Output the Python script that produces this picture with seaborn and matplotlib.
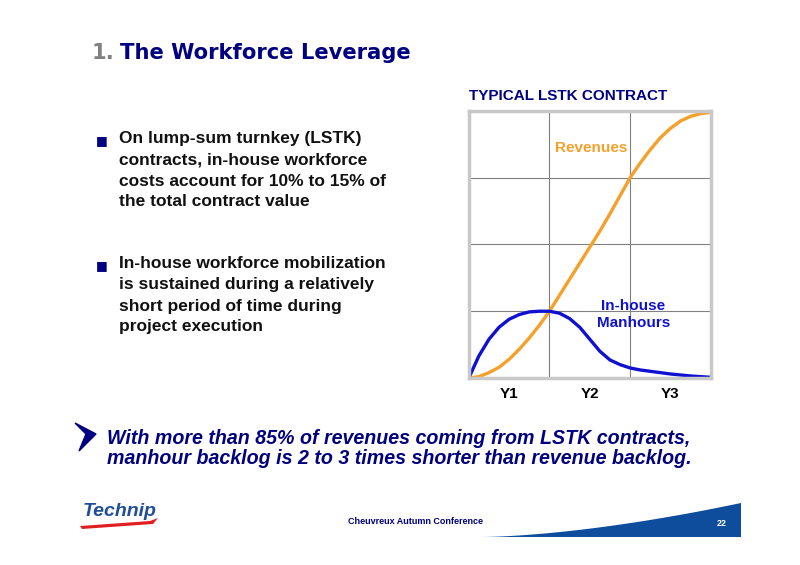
import matplotlib
matplotlib.use("Agg")
import matplotlib.pyplot as plt
from matplotlib.patches import Polygon
import numpy as np
import pandas as pd
import seaborn as sns

# chart values (x in years, y in grid rows)
years = [0, 0.125, 0.25, 0.375, 0.5, 0.625, 0.75, 0.875, 1.0, 1.125, 1.25, 1.375, 1.5,
         1.625, 1.75, 1.875, 2.0, 2.125, 2.25, 2.375, 2.5, 2.625, 2.75, 2.875, 3.0]
revenues = [0, 0.02, 0.08, 0.16, 0.28, 0.43, 0.6, 0.79, 1.0, 1.24, 1.48, 1.72, 1.96,
            2.2, 2.46, 2.73, 3.0, 3.22, 3.42, 3.6, 3.74, 3.85, 3.92, 3.96, 3.98]
manhours = [0, 0.33, 0.58, 0.76, 0.88, 0.95, 0.99, 1.0, 1.0, 0.97, 0.89, 0.76, 0.58,
            0.4, 0.27, 0.2, 0.15, 0.12, 0.1, 0.08, 0.06, 0.045, 0.03, 0.02, 0.01]
year_labels = ["Y1", "Y2", "Y3"]
year_label_pos = [0.5, 1.5, 2.5]

NAVY = "#000080"
ORANGE = "#F5A02A"
BLUE = "#1010D0"

df = pd.DataFrame({
    "year": years * 2,
    "value": revenues + manhours,
    "series": ["Revenues"] * len(years) + ["In-house Manhours"] * len(years),
})

sns.set_style("white")
plt.rcParams["font.family"] = ["Liberation Sans", "DejaVu Sans"]

fig = plt.figure(figsize=(8, 5.65), dpi=100)
ax = fig.add_axes([0.586, 0.331, 0.3025, 0.4726])

sns.lineplot(data=df, x="year", y="value", hue="series",
             palette={"Revenues": ORANGE, "In-house Manhours": BLUE},
             linewidth=2.4, legend=False, ax=ax)

ax.set_xlim(0, 3)
ax.set_ylim(0, 4)
ax.set_xticks([1, 2])
ax.set_yticks([1, 2, 3])
ax.set_xticklabels([])
ax.set_yticklabels([])
ax.tick_params(length=0)
ax.grid(True, color="#808080", linewidth=0.8)
ax.set_axisbelow(True)
ax.set_xlabel("")
ax.set_ylabel("")
for s in ax.spines.values():
    s.set_color("#C8C8C8")
    s.set_linewidth(2.5)

for lab, pos in zip(year_labels, year_label_pos):
    ax.text(pos, -0.24, lab, ha="center", va="center", fontsize=11,
            fontweight="bold", color="black")

ax.text(1.52, 3.45, "Revenues", ha="center", va="center", fontsize=11,
        fontweight="bold", color=ORANGE)
ax.text(2.04, 0.95, "In-house\nManhours", ha="center", va="center", fontsize=11,
        fontweight="bold", color=BLUE, linespacing=1.2)

ax.text(0.0, 4.22, "TYPICAL LSTK CONTRACT", ha="left", va="center", fontsize=11,
        fontweight="bold", color=NAVY)

# slide title
fig.text(92 / 800, 1 - 53 / 565, "1.", fontsize=15.2, fontweight="bold",
         color="#808080", va="center", ha="left", family="DejaVu Sans")
fig.text(120 / 800, 1 - 53 / 565, "The Workforce Leverage", fontsize=15.2,
         fontweight="bold", color=NAVY, va="center", ha="left", family="DejaVu Sans")

# bullets
bullet1 = ["On lump-sum turnkey (LSTK)", "contracts, in-house workforce",
           "costs account for 10% to 15% of", "the total contract value"]
bullet2 = ["In-house workforce mobilization", "is sustained during a relatively",
           "short period of time during", "project execution"]
for lines, y0 in [(bullet1, 139), (bullet2, 264)]:
    fig.text(102 / 800, 1 - (y0 + 2) / 565, "\u25A0", fontsize=9, color=NAVY,
             va="center", ha="center", family="DejaVu Sans")
    for i, line in enumerate(lines):
        fig.text(119 / 800, 1 - (y0 + 21 * i) / 565, line, fontsize=12.5,
                 fontweight="bold", color="#111111", va="center", ha="left")

# conclusion arrow and text
arrow_pts = [(75, 423), (96, 434), (79, 451), (86, 434)]
arrow = Polygon([[x, 565 - y] for x, y in arrow_pts], closed=True, transform=None,
                facecolor=NAVY, edgecolor=NAVY)
fig.patches.append(arrow)
fig.text(107 / 800, 1 - 439 / 565,
         "With more than 85% of revenues coming from LSTK contracts,",
         fontsize=14.1, fontweight="bold", style="italic", color=NAVY, va="center")
fig.text(107 / 800, 1 - 458 / 565,
         "manhour backlog is 2 to 3 times shorter than revenue backlog.",
         fontsize=14.1, fontweight="bold", style="italic", color=NAVY, va="center")

# footer
fig.text(120 / 800, 1 - 511 / 565, "Technip", fontsize=14, fontweight="bold",
         style="italic", color="#1F4E9A", ha="center", va="center")
swoosh = Polygon([[x, 565 - y] for x, y in [(80, 526), (150, 521), (158, 518), (153, 524), (82, 529)]],
                 closed=True, transform=None, facecolor="#E02020", edgecolor="none")
fig.patches.append(swoosh)
fig.text(415 / 800, 1 - 522 / 565, "Cheuvreux Autumn Conference", fontsize=6.5,
         fontweight="bold", color=NAVY, ha="center", va="center")
wedge_pts = [(482, 537)] + [(482 + t * 259, 537 - 34 * t ** 1.6) for t in np.linspace(0, 1, 30)] + [(741, 537)]
wedge = Polygon([[x, 565 - y] for x, y in wedge_pts], closed=True, transform=None,
                facecolor="#0E4C9C", edgecolor="none")
fig.patches.append(wedge)
fig.text(722 / 800, 1 - 524 / 565, "22", fontsize=6.5, fontweight="bold",
         color="white", ha="center", va="center")

fig.savefig("out.png", dpi=100, facecolor="white")
